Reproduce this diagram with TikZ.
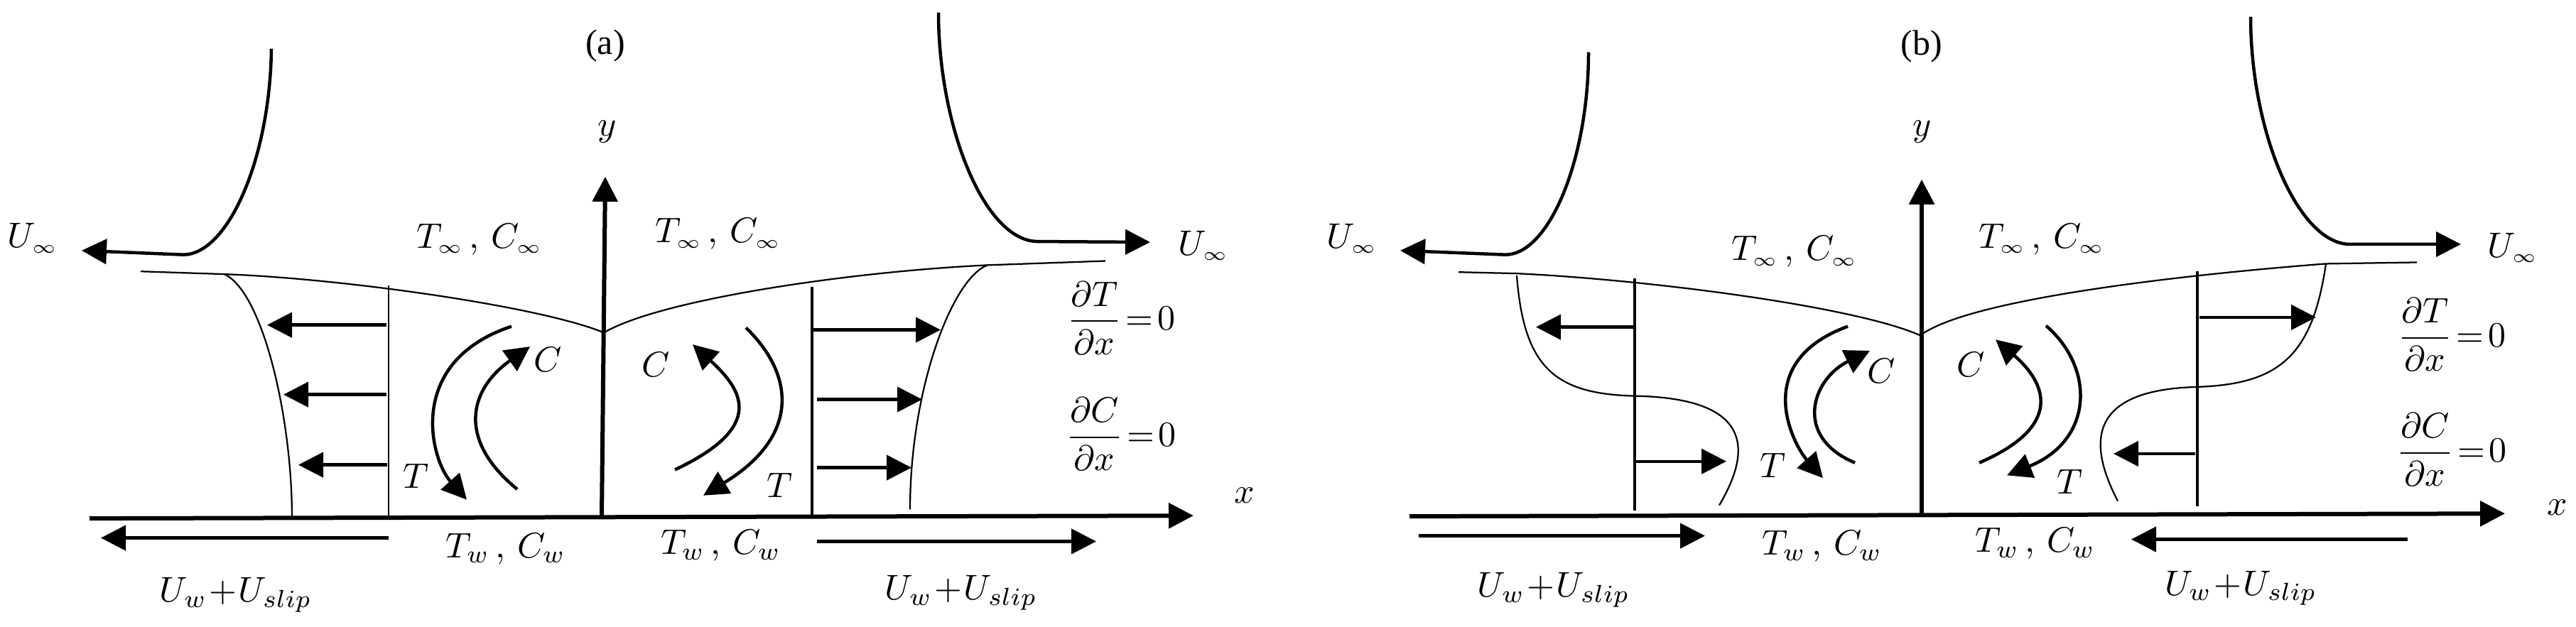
\documentclass[tikz,border=0pt]{standalone}
\usepackage{amsmath}
\usepackage{fontspec}
\setmainfont{Liberation Serif}
\usetikzlibrary{arrows.meta}
\newcommand{\lowinf}{{\scriptscriptstyle\infty}}
\begin{document}
\begin{tikzpicture}[x=0.2pt,y=-0.196pt,>={Triangle[length=7pt,width=7pt]},
    hair/.style={line width=0.45pt},
    vel/.style={line width=0.9pt},
    bulk/.style={line width=1.2pt}]
    \useasboundingbox (0,0) rectangle (3626,900);
    \node (capa) at (852,66) {(a)};
    \node (capb) at (2705,67) {(b)};
    %
    \draw[bulk,->] (126,745) -- (1680,741);
    \draw[bulk,->] (847,741) -- (852,254);
    \node (xa) at (1752,712) {$x$};
    \node (ya) at (855,189) {$y$};
    \draw[vel,->] (382,70) .. controls (380,230) and (320,366) .. (258,366) -- (115,360);
    \draw[vel,->] (1321,18) .. controls (1321,180) and (1385,347) .. (1461,347) -- (1619,348);
    \node (uinfal) at (46,342) {$U_\lowinf$};
    \node (uinfar) at (1694,353) {$U_\lowinf$};
    \node (tinfal) at (675,344) {$T_\lowinf\,,\,C_\lowinf$};
    \node (tinfar) at (1011,336) {$T_\lowinf\,,\,C_\lowinf$};
    \draw[hair] (198,390) -- (316,394) .. controls (480,400) and (760,440) .. (850,478);
    \draw[hair] (850,478) .. controls (930,430) and (1200,390) .. (1390,381) -- (1556,375);
    %
    \draw[hair] (547,410) -- (547,746);
    \draw[hair] (316,394) .. controls (370,420) and (411,600) .. (411,743);
    \draw[vel,->] (544,467) -- (376,467);
    \draw[vel,->] (544,567) -- (399,567);
    \draw[vel,->] (545,668) -- (420,668);
    \draw[vel,->] (547,773) -- (142,773);
    \node (slipal) at (332,855) {$U_w\!+\!U_{slip}$};
    \node (twal) at (712,789) {$T_w\,,\,C_w$};
    \draw[vel,->] (720,469) .. controls (570,520) and (606,660) .. (657,718);
    \draw[vel,->] (728,703) .. controls (643,632) and (660,560) .. (746,498);
    \node (cal) at (771,517) {$C$};
    \node (tal) at (586,684) {$T$};
    %
    \draw[vel] (1143,412) -- (1143,741);
    \draw[hair] (1390,381) .. controls (1340,400) and (1281,560) .. (1281,732);
    \draw[vel,->] (1143,474) -- (1324,474);
    \draw[vel,->] (1150,574) -- (1298,574);
    \draw[vel,->] (1150,672) -- (1283,672);
    \draw[vel,->] (1150,778) -- (1543,778);
    \node (slipar) at (1353,852) {$U_w\!+\!U_{slip}$};
    \node (twar) at (1015,784) {$T_w\,,\,C_w$};
    \draw[vel,->] (1050,471) .. controls (1120,540) and (1125,628) .. (990,712);
    \draw[vel,->] (950,675) .. controls (1079,613) and (1045,560) .. (975,495);
    \node (car) at (923,524) {$C$};
    \node (tar) at (1098,697) {$T$};
    \node (dta) at (1578,457) {$\dfrac{\partial T}{\partial x}\!=\!0$};
    \node (dca) at (1578,624) {$\dfrac{\partial C}{\partial x}\!=\!0$};
    %
    \draw[bulk,->] (1984,742) -- (3526,738);
    \draw[bulk,->] (2705,740) -- (2705,258);
    \node (xb) at (3600,729) {$x$};
    \node (yb) at (2706,189) {$y$};
    \draw[vel,->] (2236,75) .. controls (2236,230) and (2180,366) .. (2119,366) -- (1971,360);
    \draw[vel,->] (3168,24) .. controls (3168,190) and (3235,351) .. (3308,351) -- (3464,351);
    \node (uinfbl) at (1903,343) {$U_\lowinf$};
    \node (uinfbr) at (3537,356) {$U_\lowinf$};
    \node (tinfbl) at (2526,362) {$T_\lowinf\,,\,C_\lowinf$};
    \node (tinfbr) at (2874,344) {$T_\lowinf\,,\,C_\lowinf$};
    \draw[hair] (2053,391) -- (2135,393) .. controls (2320,402) and (2610,440) .. (2703,482);
    \draw[hair] (2703,482) .. controls (2770,430) and (3070,395) .. (3274,379) -- (3402,377);
    %
    \draw[vel] (2301,400) -- (2301,734);
    \draw[hair] (2135,396) .. controls (2145,530) and (2190,566) .. (2301,569) .. controls (2460,572) and (2470,640) .. (2420,726);
    \draw[vel,->] (2301,470) -- (2162,470);
    \draw[vel,->] (2301,663) -- (2430,663);
    \draw[vel,->] (1997,770) -- (2400,770);
    \node (slipbl) at (2187,848) {$U_w\!+\!U_{slip}$};
    \node (twbl) at (2565,785) {$T_w\,,\,C_w$};
    \draw[vel,->] (2601,469) .. controls (2462,521) and (2525,640) .. (2566,687);
    \draw[vel,->] (2611,665) .. controls (2524,628) and (2550,545) .. (2632,504);
    \node (cbl) at (2648,533) {$C$};
    \node (tbl) at (2496,669) {$T$};
    %
    \draw[vel] (3093,390) -- (3093,728);
    \draw[hair] (3274,379) .. controls (3255,510) and (3210,552) .. (3093,556) .. controls (2945,560) and (2935,630) .. (2981,720);
    \draw[vel,->] (3096,456) -- (3260,456);
    \draw[vel,->] (3090,652) -- (2975,652);
    \draw[vel,->] (3389,775) -- (3000,775);
    \node (slipbr) at (3154,845) {$U_w\!+\!U_{slip}$};
    \node (twbr) at (2865,781) {$T_w\,,\,C_w$};
    \draw[vel,->] (2880,468) .. controls (2950,530) and (2946,633) .. (2825,683);
    \draw[vel,->] (2786,665) .. controls (2906,612) and (2880,550) .. (2809,488);
    \node (cbr) at (2774,524) {$C$};
    \node (tbr) at (2914,692) {$T$};
    \node (dtb) at (3451,481) {$\dfrac{\partial T}{\partial x}\!=\!0$};
    \node (dcb) at (3451,646) {$\dfrac{\partial C}{\partial x}\!=\!0$};
\end{tikzpicture}
\end{document}
